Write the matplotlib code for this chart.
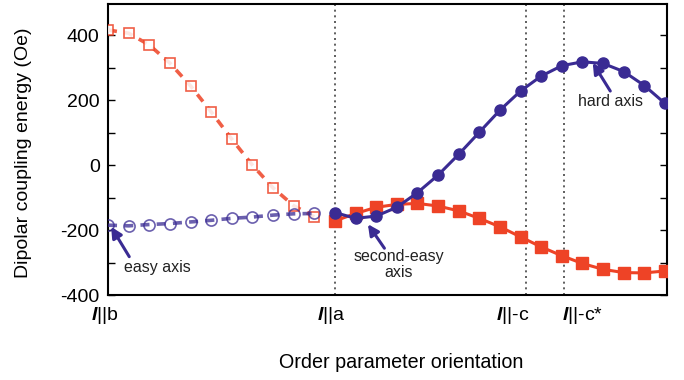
import numpy as np
import matplotlib.pyplot as plt

plt.rcParams['font.family'] = ['Liberation Sans', 'DejaVu Sans']
plt.rcParams['mathtext.fontset'] = 'custom'
plt.rcParams['mathtext.bfit'] = 'Liberation Sans:italic:bold'
plt.rcParams['axes.unicode_minus'] = False

red = '#ee4326'
blue = '#3a2b93'

# orientation steps (l||b = 0, l||a = 11)
x_open = np.arange(0, 11)
x_fill = np.arange(11, 28)

# open symbols: l||b -> l||a
red_open = [416, 406, 370, 314, 244, 164, 80, 0, -70, -125, -159]
blue_open = [-185, -187, -183, -180, -175, -170, -164, -160, -154, -150, -149]

# filled symbols: l||a -> beyond l||-c*
red_fill = [-172, -149, -130, -121, -118, -126, -141, -164, -190, -221,
            -252, -279, -303, -321, -331, -332, -326]
blue_fill = [-146, -164, -157, -130, -85, -31, 33, 101, 169, 228,
             274, 306, 318, 313, 288, 245, 190]

line_pos = [11, 20.25, 22.1]
tick_labels = [r'$\mathbfit{l}$||b', r'$\mathbfit{l}$||a',
               r'$\mathbfit{l}$||-c', r'$\mathbfit{l}$||-c*']
label_x = [105, 331, 513, 583]  # label centres in pixels

fig = plt.figure(figsize=(6.84, 3.80), dpi=100)
ax = fig.add_axes([108 / 684, 1 - 295 / 380, 559 / 684, 291 / 380])

for xv in line_pos:
    ax.axvline(xv, color='#444444', ls=(0, (1.2, 2.2)), lw=1.2, zorder=1)

ax.plot(x_open, red_open, ls=(0, (2.5, 2)), lw=2.6, color=red, alpha=0.85,
        marker='s', ms=7.5, mfc='white', mec=red, mew=1.2, zorder=3)
ax.plot(x_open, blue_open, ls=(0, (2.5, 2)), lw=2.6, color=blue, alpha=0.75,
        marker='o', ms=8, mfc='none', mec=blue, mew=1.2, zorder=3)
ax.plot(x_fill, red_fill, ls='-', lw=2.2, color=red, marker='s', ms=8,
        mfc=red, mec=red, zorder=3)
ax.plot(x_fill, blue_fill, ls='-', lw=2.2, color=blue, marker='o', ms=8,
        mfc=blue, mec=blue, zorder=4)

ax.set_xlim(0, 27.1)
ax.set_ylim(-400, 496)
ax.set_yticks([-400, -200, 0, 200, 400])
ax.set_yticks(np.arange(-400, 500, 100), minor=True)
ax.tick_params(axis='y', which='both', direction='in', length=5, width=1,
               right=True, labelsize=14, pad=6)
ax.set_xticks([])
for s in ax.spines.values():
    s.set_linewidth(1.5)

for lx, lab in zip(label_x, tick_labels):
    fig.text(lx / 684, 1 - 316 / 380, lab, fontsize=14,
             ha='center', va='center')

fig.text(24 / 684, 1 - 153 / 380, 'Dipolar coupling energy (Oe)',
         fontsize=14, rotation=90, ha='center', va='center')
fig.text(401 / 684, 1 - 363 / 380, 'Order parameter orientation',
         fontsize=14.2, ha='center', va='center')

arrow = dict(arrowstyle='-|>', color=blue, lw=2.2, mutation_scale=16,
             shrinkA=0, shrinkB=0)
ax.annotate('', xy=(0.15, -190), xytext=(1.03, -282), arrowprops=arrow)
ax.text(2.4, -315, 'easy axis', fontsize=11.5, ha='center', va='center',
        color='#222222')
ax.annotate('', xy=(12.6, -182), xytext=(13.4, -256), arrowprops=arrow)
ax.text(14.1, -305, 'second-easy\naxis', fontsize=11.5, ha='center',
        va='center', color='#222222', linespacing=1.1)
ax.annotate('', xy=(23.5, 315), xytext=(24.35, 228), arrowprops=arrow)
ax.text(24.35, 195, 'hard axis', fontsize=11.5, ha='center', va='center',
        color='#222222')

fig.savefig('out.png', dpi=100)
